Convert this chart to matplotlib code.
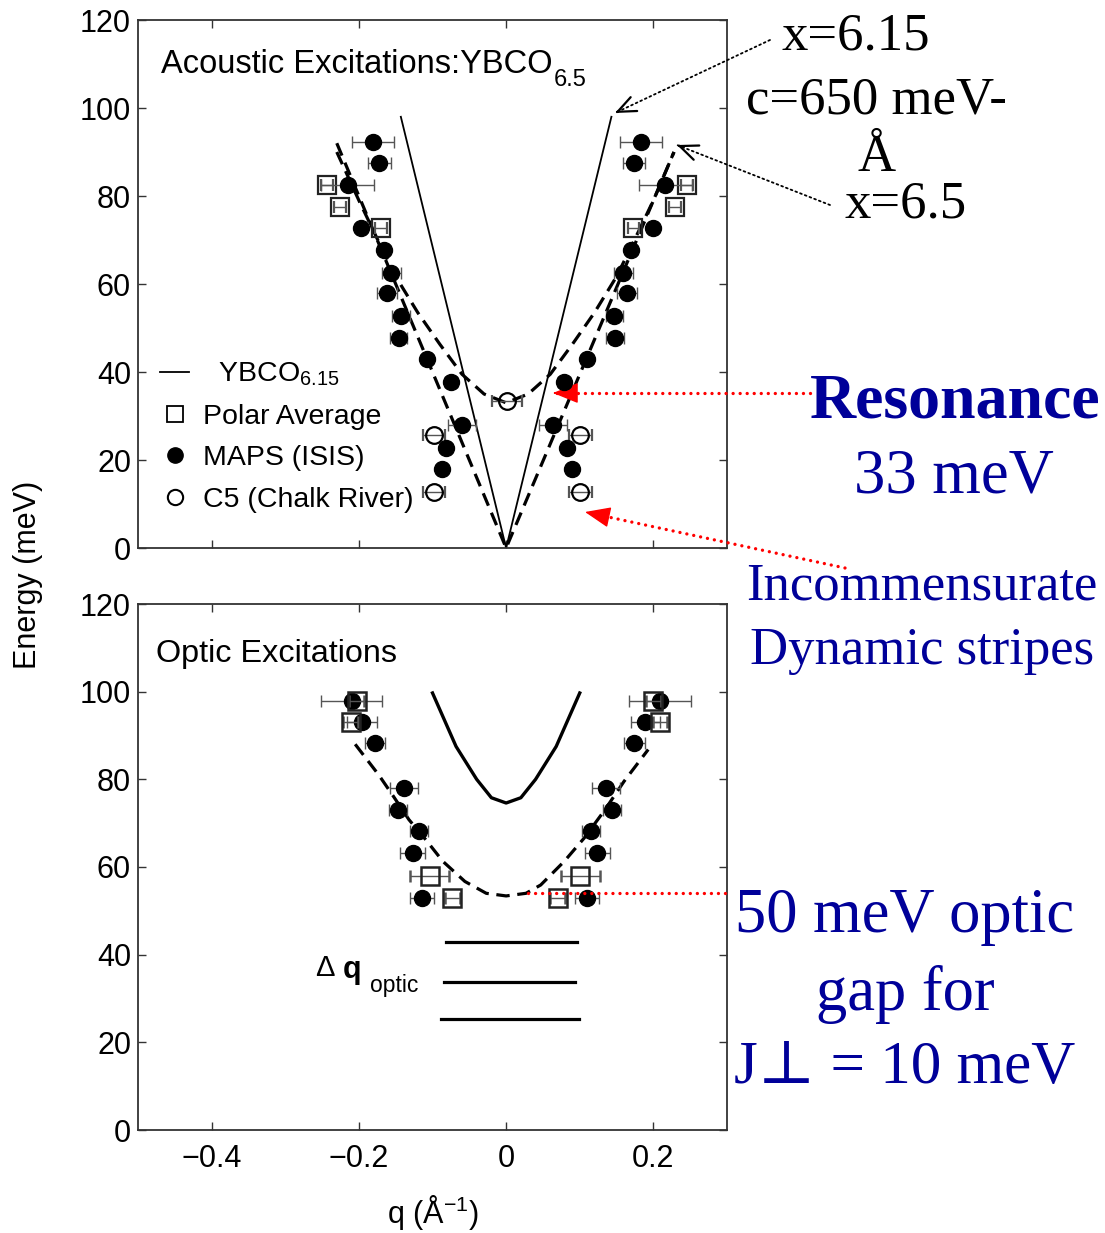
import matplotlib
matplotlib.use("Agg")
import matplotlib.pyplot as plt
from matplotlib.lines import Line2D

plt.rcParams['font.family'] = ['Liberation Sans', 'DejaVu Sans']
plt.rcParams['mathtext.fontset'] = 'custom'
plt.rcParams['mathtext.rm'] = 'Liberation Sans'
plt.rcParams['mathtext.it'] = 'Liberation Sans:italic'
plt.rcParams['mathtext.bf'] = 'Liberation Sans:bold'

# ---------------- data: acoustic panel ----------------
maps_top_q = [-0.181, -0.172, -0.215, -0.197, -0.166, -0.156, -0.162, -0.143, -0.146, -0.108, -0.075, -0.060, -0.081, -0.087,
              0.183, 0.174, 0.216, 0.199, 0.170, 0.159, 0.164, 0.147, 0.148, 0.110, 0.079, 0.064, 0.083, 0.090]
maps_top_E = [92.3, 87.6, 82.5, 72.7, 67.7, 62.6, 57.9, 52.7, 47.7, 42.9, 37.8, 28.0, 22.7, 17.9,
              92.3, 87.6, 82.5, 72.7, 67.7, 62.6, 57.9, 52.7, 47.7, 42.9, 37.8, 28.0, 22.7, 17.9]
maps_top_err = [0.029, 0.015, 0.036, 0.0, 0.0, 0.013, 0.014, 0.012, 0.012, 0.0, 0.008, 0.019, 0.0, 0.0,
                0.029, 0.015, 0.036, 0.0, 0.0, 0.013, 0.014, 0.012, 0.012, 0.0, 0.008, 0.019, 0.0, 0.0]

polar_top_q = [-0.243, -0.226, -0.170, 0.246, 0.229, 0.173]
polar_top_E = [82.5, 77.4, 72.7, 82.5, 77.4, 72.7]
polar_top_err = [0.008, 0.008, 0.008, 0.008, 0.008, 0.008]

c5_q = [0.001, -0.098, -0.098, 0.101, 0.101]
c5_E = [33.3, 25.7, 12.8, 25.7, 12.8]
c5_err = [0.020, 0.015, 0.015, 0.015, 0.015]

ybco615_q = [-0.143, 0.0, 0.143]
ybco615_E = [98.0, 0.0, 98.0]

ybco65_low_q = [-0.230, 0.0, 0.228]
ybco65_low_E = [92.0, 0.0, 90.0]

ybco65_up_q = [-0.230, -0.200, -0.170, -0.150, -0.120, -0.090, -0.060, -0.030, 0.0,
               0.030, 0.060, 0.090, 0.120, 0.150, 0.170, 0.200, 0.228]
ybco65_up_E = [90.0, 79.0, 68.5, 61.7, 53.5, 46.3, 39.5, 35.0, 33.0,
               35.0, 39.5, 46.3, 53.5, 61.7, 68.5, 79.0, 90.0]

# ---------------- data: optic panel ----------------
maps_bot_q = [-0.210, -0.196, -0.178, -0.139, -0.147, -0.118, -0.127, -0.114,
              0.209, 0.189, 0.174, 0.135, 0.144, 0.115, 0.124, 0.110]
maps_bot_E = [97.8, 93.0, 88.4, 78.0, 73.0, 68.1, 63.2, 52.9,
              97.8, 93.0, 88.4, 78.0, 73.0, 68.1, 63.2, 52.9]
maps_bot_err = [0.042, 0.020, 0.014, 0.019, 0.012, 0.012, 0.017, 0.016,
                0.042, 0.020, 0.014, 0.019, 0.012, 0.012, 0.017, 0.016]

polar_bot_q = [-0.203, -0.211, -0.104, -0.073, 0.200, 0.209, 0.101, 0.070]
polar_bot_E = [97.8, 93.0, 58.0, 52.9, 97.8, 93.0, 58.0, 52.9]
polar_bot_err = [0.010, 0.010, 0.027, 0.010, 0.010, 0.010, 0.027, 0.010]

optic615_q = [-0.100, -0.068, -0.040, -0.020, 0.0, 0.020, 0.040, 0.068, 0.100]
optic615_E = [99.7, 87.5, 80.0, 75.8, 74.6, 75.8, 80.0, 87.5, 99.7]

optic65_q = [-0.205, -0.173, -0.153, -0.132, -0.109, -0.086, -0.056, -0.027, 0.0,
             0.027, 0.047, 0.079, 0.106, 0.134, 0.160, 0.193]
optic65_E = [88.0, 81.0, 76.1, 70.8, 66.2, 61.3, 56.7, 54.0, 53.4,
             54.0, 55.9, 61.3, 66.6, 73.0, 79.5, 86.8]

dq_E = [43.0, 33.7, 25.3]
dq_start = [-0.082, -0.085, -0.088]
dq_end = [0.096, 0.094, 0.099]

xtick_vals = [-0.4, -0.2, 0.0, 0.2]
xtick_labels = ['\u22120.4', '\u22120.2', '0', '0.2']
ytick_vals = [0, 20, 40, 60, 80, 100, 120]

# ---------------- figure ----------------
W, H = 1105, 1233
fig = plt.figure(figsize=(W / 100, H / 100), dpi=100)


def fp(px, py):
    return (px / W, 1 - py / H)


ax1 = fig.add_axes([138 / W, 1 - 548 / H, 589 / W, 528 / H])
ax2 = fig.add_axes([138 / W, 1 - 1130 / H, 589 / W, 526 / H])

for ax in (ax1, ax2):
    ax.set_xlim(-0.5, 0.3)
    ax.set_ylim(0, 120)
    ax.set_xticks(xtick_vals)
    ax.set_yticks(ytick_vals)
    ax.tick_params(direction='in', top=True, right=True, length=6, width=1.0,
                   labelsize=22, color='#333333')
    ax.tick_params(axis='x', pad=10)
    ax.tick_params(axis='y', pad=5)
    for s in ax.spines.values():
        s.set_linewidth(1.3)
        s.set_color('#333333')

ax1.set_xticklabels([])
ax2.set_xticklabels(xtick_labels)

eb_kw = dict(ecolor='#555555', elinewidth=1.0, capsize=4, capthick=1.0, linestyle='none')
dash_kw = dict(color='k', lw=2.3, dashes=(4.2, 2.4))

# --- acoustic panel
ax1.plot(ybco615_q, ybco615_E, color='k', lw=1.3, zorder=2)
ax1.plot(ybco65_low_q, ybco65_low_E, zorder=2, **dash_kw)
ax1.plot(ybco65_up_q, ybco65_up_E, zorder=2, **dash_kw)
ax1.errorbar(polar_top_q, polar_top_E, xerr=polar_top_err, fmt='s', ms=13, mfc='none',
             mec='#222222', mew=1.6, zorder=3, **eb_kw)
ax1.errorbar(maps_top_q, maps_top_E, xerr=maps_top_err, fmt='o', ms=11.5, mfc='k',
             mec='k', zorder=4, **eb_kw)
ax1.errorbar(c5_q, c5_E, xerr=c5_err, fmt='o', ms=12, mfc='none', mec='k', mew=1.6,
             zorder=3, **eb_kw)

title_txt = ax1.text(-0.469, 109.8, 'Acoustic Excitations:YBCO', fontsize=23.5,
                     ha='left', va='center')
ax1.annotate('6.5', xy=(1, 0), xycoords=title_txt, xytext=(1, 0),
             textcoords='offset points', fontsize=17, ha='left', va='center')

handles = [Line2D([], [], color='k', lw=1.3),
           Line2D([], [], marker='s', ls='none', ms=11, mfc='none', mec='k', mew=1.3),
           Line2D([], [], marker='o', ls='none', ms=11, mfc='k', mec='k'),
           Line2D([], [], marker='o', ls='none', ms=11, mfc='none', mec='k', mew=1.5)]
labels = ['  YBCO$_{6.15}$', 'Polar Average', 'MAPS (ISIS)', 'C5 (Chalk River)']
leg = ax1.legend(handles, labels, loc='upper left', bbox_to_anchor=(0.038, 0.355),
                 frameon=False, fontsize=20.5, handlelength=1.0, handletextpad=0.48,
                 labelspacing=0.55, borderpad=0, borderaxespad=0)

# --- optic panel
ax2.plot(optic615_q, optic615_E, color='k', lw=2.4, zorder=2)
ax2.plot(optic65_q, optic65_E, zorder=2, **dash_kw)
ax2.errorbar(maps_bot_q, maps_bot_E, xerr=maps_bot_err, fmt='o', ms=11.5, mfc='k',
             mec='k', zorder=3, **eb_kw)
ax2.errorbar(polar_bot_q, polar_bot_E, xerr=polar_bot_err, fmt='s', ms=13, mfc='none',
             mec='#222222', mew=1.8, zorder=4, **eb_kw)
for e, a, b in zip(dq_E, dq_start, dq_end):
    ax2.plot([a, b], [e, e], color='k', lw=2.3)

ax2.text(-0.475, 108.7, 'Optic Excitations', fontsize=23.3, ha='left', va='center')
ax2.text(-0.260, 37.0, '\u0394', fontsize=21, ha='left', va='center')
ax2.text(-0.222, 36.5, 'q', fontsize=22, fontweight='bold', ha='left', va='center')
ax2.text(-0.185, 33.0, 'optic', fontsize=16.5, ha='left', va='center')

ax2.set_xlabel('q (\u00c5$^{\\mathregular{-1}}$)', fontsize=22, labelpad=14)
fig.text(28 / W, 1 - 575 / H, 'Energy (meV)', rotation=90, fontsize=22,
         ha='center', va='center')

# --- annotations (figure level)
serif = ['Liberation Serif', 'DejaVu Serif']
blue = '#000099'
fig.text(*fp(856, 37), 'x=6.15', fontsize=38, family=serif, ha='center', va='center')
fig.text(*fp(876, 100), 'c=650 meV-', fontsize=38, family=serif, ha='center', va='center')
fig.text(*fp(877, 158), '\u00c5', fontsize=38, family=serif, ha='center', va='center')
fig.text(*fp(906, 205), 'x=6.5', fontsize=38, family=serif, ha='center', va='center')
fig.text(*fp(955, 402), 'Resonance', fontsize=46, family=serif, weight='bold',
         color=blue, ha='center', va='center')
fig.text(*fp(954, 477), '33 meV', fontsize=45, family=serif, color=blue,
         ha='center', va='center')
fig.text(*fp(922, 586), 'Incommensurate', fontsize=38, family=serif, color=blue,
         ha='center', va='center')
fig.text(*fp(922, 651), 'Dynamic stripes', fontsize=38, family=serif, color=blue,
         ha='center', va='center')
fig.text(*fp(905, 917), '50 meV optic', fontsize=45, family=serif, color=blue,
         ha='center', va='center')
fig.text(*fp(905, 995), 'gap for', fontsize=45, family=serif, color=blue,
         ha='center', va='center')
fig.text(*fp(905, 1068), 'J\u22a5 = 10 meV', fontsize=44, family=serif, color=blue,
         ha='center', va='center')


def dotted_arrow(p0, p1, color, lw, pattern, head, hl, hw, hlw):
    x0, y0 = fp(*p0)
    x1, y1 = fp(*p1)
    ln = Line2D([x0, x1], [y0, y1], transform=fig.transFigure, color=color, lw=lw,
                linestyle=(0, pattern), dash_capstyle='round')
    fig.add_artist(ln)
    # short solid arrow for the head
    dx, dy = p0[0] - p1[0], p0[1] - p1[1]
    n = (dx * dx + dy * dy) ** 0.5
    q = (p1[0] + dx / n * 3, p1[1] + dy / n * 3)
    ax1.annotate('', xy=fp(*p1), xycoords='figure fraction', xytext=fp(*q),
                 textcoords='figure fraction', annotation_clip=False,
                 arrowprops=dict(arrowstyle='%s,head_length=%s,head_width=%s' % (head, hl, hw),
                                 color=color, lw=hlw, shrinkA=0, shrinkB=0))


dotted_arrow((770, 40), (615, 113), 'k', 1.3, (1, 1.8), '->', 1.3, 0.55, 1.6)
dotted_arrow((830, 205), (677, 145), 'k', 1.3, (1, 1.8), '->', 1.3, 0.55, 1.6)
dotted_arrow((810, 393), (553, 393), 'red', 2.4, (0.01, 2.1), '-|>', 1.6, 0.65, 1)
dotted_arrow((845, 568), (585, 512), 'red', 2.4, (0.01, 2.1), '-|>', 1.6, 0.65, 1)
dotted_arrow((725, 893), (522, 893), 'red', 2.4, (0.01, 2.1), '-|>', 1.6, 0.65, 1)

fig.savefig('out.png', dpi=100)
